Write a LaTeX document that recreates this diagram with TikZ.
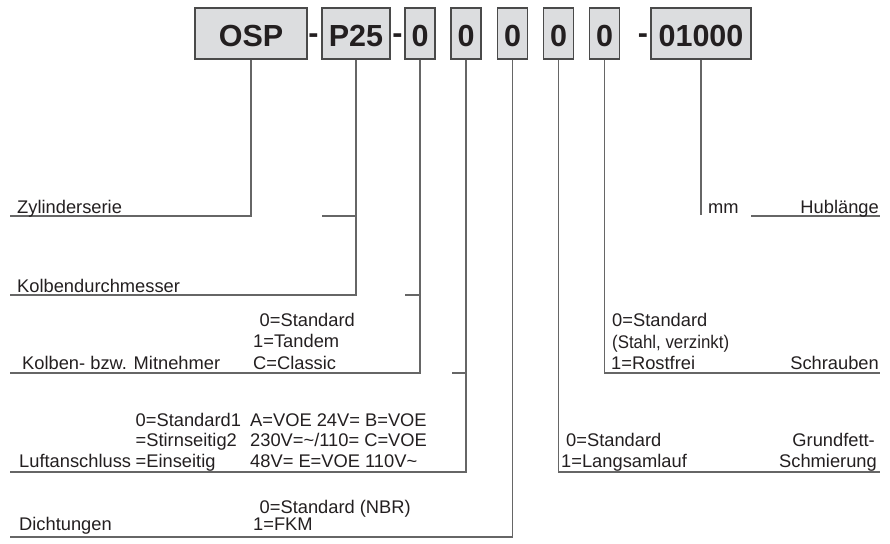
\documentclass[tikz,border=0pt]{standalone}
\usepackage{fontspec}
\setmainfont{Liberation Sans}
\begin{document}
\begin{tikzpicture}[x=1pt,y=-1pt,
  codebox/.style={draw=boxline, fill=boxfill, line width=1.3pt, inner sep=0pt,
    minimum height=51pt, text height=27pt, text depth=0pt,
    font=\fontsize{30.5}{32}\selectfont\bfseries, text=txt},
  codedash/.style={anchor=base, inner sep=0pt, font=\fontsize{30.5}{32}\selectfont\bfseries, text=txt},
  lbl/.style={anchor=base west, inner sep=0pt, font=\fontsize{18.3}{21}\selectfont, text=txt},
  lblr/.style={anchor=base east, inner sep=0pt, font=\fontsize{18.3}{21}\selectfont, text=txt},
  conn/.style={draw=connline, line width=1.2pt}]
\definecolor{boxfill}{HTML}{DCDDDF}
\definecolor{boxline}{HTML}{4A4A4A}
\definecolor{connline}{HTML}{666666}
\definecolor{txt}{HTML}{231F20}
\useasboundingbox (0,0) rectangle (890,543);

% code boxes
\node[codebox, minimum width=112pt] (osp) at (251,33.5) {OSP};
\node[codebox, minimum width=68pt]  (p25) at (356,33.5) {P25};
\node[codebox, minimum width=30pt]  (b1)  at (420,33.5) {0};
\node[codebox, minimum width=30pt]  (b2)  at (466,33.5) {0};
\node[codebox, minimum width=30pt]  (b3)  at (512.5,33.5) {0};
\node[codebox, minimum width=30pt]  (b4)  at (558.5,33.5) {0};
\node[codebox, minimum width=30pt]  (b5)  at (604.5,33.5) {0};
\node[codebox, minimum width=100pt] (hub) at (701,33.5) {01000};
\node[codedash] (d1) at (313.5,44) {-};
\node[codedash] (d2) at (397.5,44) {-};
\node[codedash] (d3) at (643,44) {-};

% end coordinates
\coordinate (e1) at (10,216);
\coordinate (e2) at (10,295);
\coordinate (e3) at (10,373);
\coordinate (e4) at (10,472);
\coordinate (e5) at (10,537);
\coordinate (e6) at (880,472);
\coordinate (e7) at (880,373);
\coordinate (e8) at (701,215);
\coordinate (s2a) at (322,216);
\coordinate (s2b) at (356,216);
\coordinate (s3a) at (405,295);
\coordinate (s3b) at (420,295);
\coordinate (s4a) at (452,373);
\coordinate (s4b) at (466,373);
\coordinate (h1) at (751,216);
\coordinate (h2) at (880,216);

% connectors
\draw[conn] (osp.south) |- (e1);
\draw[conn] (p25.south) |- (e2);
\draw[conn] (s2a) -- (s2b);
\draw[conn] (b1.south) |- (e3);
\draw[conn] (s3a) -- (s3b);
\draw[conn] (b2.south) |- (e4);
\draw[conn] (s4a) -- (s4b);
\draw[conn] (b3.south) |- (e5);
\draw[conn] (b4.south) |- (e6);
\draw[conn] (b5.south) |- (e7);
\draw[conn] (hub.south) -- (e8);
\draw[conn] (h1) -- (h2);

% labels left
\node[lbl] (t1) at (17,213) {Zylinderserie};
\node[lbl] (t2) at (17,292) {Kolbendurchmesser};
\node[lbl] (t3) at (22,369) {Kolben- bzw. Mitnehmer};
\node[lbl] (t3a) at (259.5,326) {0=Standard};
\node[lbl] (t3b) at (253,347.5) {1=Tandem};
\node[lbl] (t3c) at (253,369) {C=Classic};
\node[lbl] (t4) at (19,467) {Luftanschluss};
\node[lbl] (t4a) at (135.5,426) {0=Standard1};
\node[lbl] (t4b) at (135.5,446.5) {=Stirnseitig2};
\node[lbl] (t4c) at (135.5,467) {=Einseitig};
\node[lbl] (t4d) at (250,426) {A=VOE 24V= B=VOE};
\node[lbl] (t4e) at (250,446.5) {230V=\textasciitilde/110= C=VOE};
\node[lbl] (t4f) at (250,467) {48V= E=VOE 110V\textasciitilde};
\node[lbl] (t5) at (19,530) {Dichtungen};
\node[lbl] (t5a) at (259.5,513) {0=Standard (NBR)};
\node[lbl] (t5b) at (253,530) {1=FKM};

% labels right
\node[lbl] (mm) at (708,213) {mm};
\node[lblr] (t8) at (879,213) {Hublänge};
\node[lbl] (t7a) at (612,326.5) {0=Standard};
\node[lbl] (t7b) at (612,348) {\scalebox{0.92}[1]{(Stahl, verzinkt)}};
\node[lbl] (t7c) at (611,369) {1=Rostfrei};
\node[lblr] (t7) at (879,369) {Schrauben};
\node[lbl] (t6a) at (566,446.5) {0=Standard};
\node[lbl] (t6b) at (561,467) {1=Langsamlauf};
\node[lblr] (t6) at (875,446.5) {Grundfett-};
\node[lblr] (t6c) at (877,467) {Schmierung};
\end{tikzpicture}
\end{document}
